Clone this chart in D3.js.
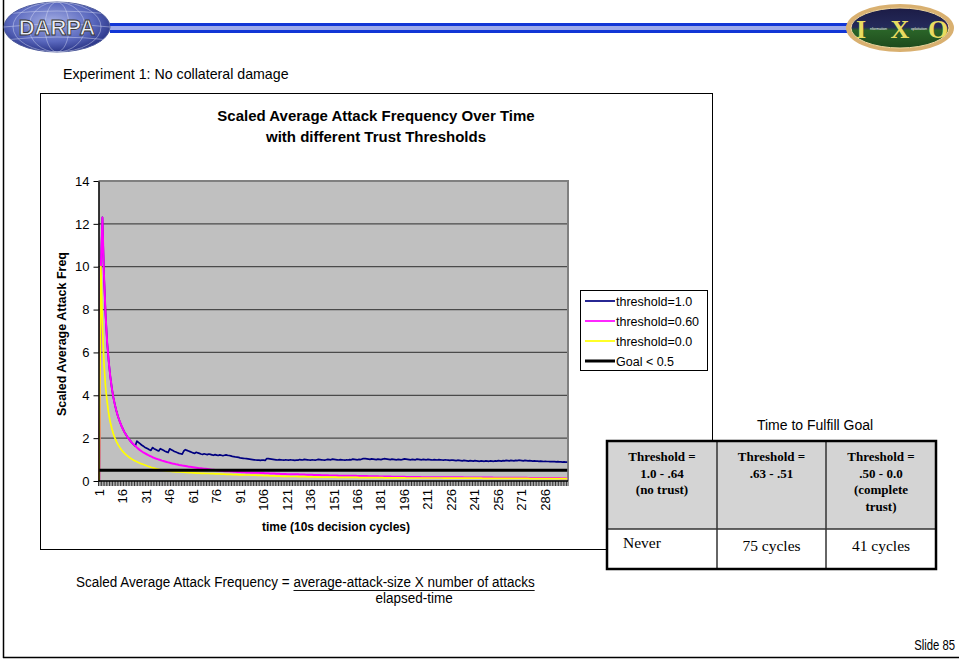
<!DOCTYPE html>
<html>
<head>
<meta charset="utf-8">
<script src="https://d3js.org/d3.v7.min.js"></script>
<style>
body { margin: 0; background: #fff; }
svg { display: block; font-family: "Liberation Sans", Arial, sans-serif; }
</style>
</head>
<body>
<svg width="959" height="660"></svg>
<script>
// values, one per 10s decision cycle (1..300)
const threshold10 = [
    0, 9.9, 12.3, 9.6, 7.8, 6.5, 5.6, 4.9, 4.35, 3.9,
    3.55, 3.25, 3.0, 2.79, 2.6, 2.44, 2.29, 2.17, 2.05, 1.95,
    1.86, 1.77, 1.7, 1.63, 1.86, 1.80, 1.74, 1.68, 1.63, 1.58,
    1.54, 1.50, 1.46, 1.43, 1.56, 1.51, 1.47, 1.43, 1.40, 1.51,
    1.47, 1.43, 1.39, 1.36, 1.33, 1.50, 1.46, 1.42, 1.38, 1.35,
    1.32, 1.29, 1.27, 1.25, 1.40, 1.46, 1.43, 1.40, 1.37, 1.34,
    1.31, 1.29, 1.34, 1.31, 1.29, 1.26, 1.24, 1.27, 1.25, 1.23,
    1.26, 1.24, 1.22, 1.20, 1.23, 1.21, 1.19, 1.22, 1.20, 1.18,
    1.20, 1.22, 1.20, 1.19, 1.17, 1.15, 1.14, 1.12, 1.11, 1.10,
    1.08, 1.07, 1.06, 1.05, 1.04, 1.03, 1.02, 1.01, 1.00, 0.99,
    0.98, 0.97, 0.97, 0.96, 0.98, 0.97, 0.96, 1.05, 1.04, 1.03,
    1.02, 1.01, 1.00, 0.99, 0.98, 1.00, 0.99, 0.98, 0.97, 0.99,
    0.98, 0.97, 0.99, 0.98, 0.97, 0.96, 0.98, 0.97, 1.00, 0.99,
    0.98, 1.01, 1.00, 0.99, 0.98, 0.97, 0.99, 0.98, 0.97, 0.99,
    1.01, 1.00, 0.99, 0.98, 0.97, 0.99, 1.01, 1.00, 0.99, 1.02,
    1.01, 1.00, 0.99, 0.98, 1.00, 0.99, 0.98, 0.97, 0.99, 0.98,
    1.00, 0.99, 1.02, 1.01, 1.00, 0.99, 1.01, 1.00, 1.03, 1.05,
    1.04, 1.03, 1.02, 1.01, 1.03, 1.02, 1.01, 1.00, 1.02, 1.01,
    1.00, 1.02, 1.04, 1.03, 1.02, 1.01, 1.00, 1.02, 1.01, 1.00,
    0.99, 1.01, 1.00, 0.99, 1.01, 1.03, 1.02, 1.01, 1.00, 0.99,
    1.01, 1.00, 0.99, 1.02, 1.01, 1.00, 0.99, 1.01, 1.00, 0.99,
    1.01, 1.00, 0.99, 0.98, 1.00, 0.99, 0.98, 1.00, 0.99, 0.98,
    0.97, 0.99, 0.98, 0.97, 0.96, 0.98, 0.97, 0.96, 0.95, 0.97,
    0.96, 0.95, 0.94, 0.96, 0.95, 0.94, 0.93, 0.95, 0.94, 0.93,
    0.95, 0.94, 0.93, 0.92, 0.94, 0.93, 0.92, 0.94, 0.93, 0.92,
    0.94, 0.93, 0.92, 0.94, 0.93, 0.95, 0.94, 0.93, 0.95, 0.94,
    0.96, 0.95, 0.94, 0.96, 0.95, 0.94, 0.96, 0.95, 0.97, 0.96,
    0.95, 0.94, 0.96, 0.95, 0.94, 0.95, 0.94, 0.93, 0.94, 0.93,
    0.93, 0.92, 0.93, 0.92, 0.91, 0.92, 0.91, 0.91, 0.90, 0.91,
    0.90, 0.90, 0.89, 0.90, 0.89, 0.89, 0.88, 0.89, 0.88, 0.88
];
const threshold060 = [
    0, 9.9, 12.3, 9.6, 7.8, 6.5, 5.6, 4.9, 4.35, 3.9,
    3.55, 3.25, 3.0, 2.79, 2.6, 2.44, 2.29, 2.17, 2.05, 1.95,
    1.86, 1.77, 1.7, 1.63, 1.56, 1.5, 1.44, 1.39, 1.34, 1.3,
    1.26, 1.22, 1.18, 1.15, 1.11, 1.08, 1.05, 1.03, 1.0, 0.98,
    0.95, 0.93, 0.91, 0.89, 0.87, 0.85, 0.83, 0.81, 0.8, 0.78,
    0.77, 0.75, 0.74, 0.72, 0.71, 0.7, 0.69, 0.67, 0.66, 0.65,
    0.64, 0.63, 0.62, 0.61, 0.6, 0.59, 0.58, 0.57, 0.57, 0.56,
    0.55, 0.54, 0.53, 0.52, 0.51, 0.5, 0.49, 0.48, 0.48, 0.47,
    0.46, 0.46, 0.45, 0.45, 0.44, 0.44, 0.43, 0.43, 0.42, 0.42,
    0.42, 0.41, 0.41, 0.41, 0.40, 0.40, 0.40, 0.39, 0.39, 0.39,
    0.38, 0.38, 0.38, 0.37, 0.37, 0.37, 0.36, 0.36, 0.36, 0.35,
    0.35, 0.35, 0.35, 0.34, 0.34, 0.34, 0.33, 0.33, 0.33, 0.33,
    0.32, 0.32, 0.32, 0.32, 0.31, 0.31, 0.31, 0.31, 0.30, 0.30,
    0.30, 0.30, 0.29, 0.29, 0.29, 0.29, 0.29, 0.28, 0.28, 0.28,
    0.28, 0.28, 0.27, 0.27, 0.27, 0.27, 0.27, 0.26, 0.26, 0.26,
    0.26, 0.26, 0.26, 0.25, 0.25, 0.25, 0.25, 0.25, 0.25, 0.24,
    0.24, 0.24, 0.24, 0.24, 0.24, 0.23, 0.23, 0.23, 0.23, 0.23,
    0.23, 0.23, 0.22, 0.22, 0.22, 0.22, 0.22, 0.22, 0.22, 0.21,
    0.21, 0.21, 0.21, 0.21, 0.21, 0.21, 0.21, 0.20, 0.20, 0.20,
    0.20, 0.20, 0.20, 0.20, 0.20, 0.20, 0.19, 0.19, 0.19, 0.19,
    0.19, 0.19, 0.19, 0.19, 0.19, 0.19, 0.18, 0.18, 0.18, 0.18,
    0.18, 0.18, 0.18, 0.18, 0.18, 0.18, 0.18, 0.17, 0.17, 0.17,
    0.17, 0.17, 0.17, 0.17, 0.17, 0.17, 0.17, 0.17, 0.17, 0.17,
    0.17, 0.17, 0.17, 0.16, 0.16, 0.16, 0.16, 0.16, 0.16, 0.16,
    0.16, 0.16, 0.16, 0.16, 0.16, 0.16, 0.16, 0.16, 0.16, 0.16,
    0.16, 0.16, 0.15, 0.15, 0.15, 0.15, 0.15, 0.15, 0.15, 0.15,
    0.15, 0.15, 0.15, 0.15, 0.15, 0.15, 0.15, 0.15, 0.15, 0.15,
    0.15, 0.15, 0.15, 0.15, 0.14, 0.14, 0.14, 0.14, 0.14, 0.14,
    0.14, 0.14, 0.14, 0.14, 0.14, 0.14, 0.14, 0.14, 0.14, 0.14,
    0.14, 0.14, 0.14, 0.14, 0.14, 0.13, 0.13, 0.13, 0.13, 0.13
];
const threshold00 = [
    0, 10.0, 7.3, 5.5, 4.4, 3.7, 3.15, 2.75, 2.45, 2.2,
    2.0, 1.84, 1.7, 1.58, 1.47, 1.38, 1.3, 1.23, 1.17, 1.11,
    1.06, 1.01, 0.97, 0.93, 0.9, 0.86, 0.83, 0.8, 0.78, 0.75,
    0.72, 0.69, 0.67, 0.64, 0.62, 0.6, 0.58, 0.56, 0.54, 0.52,
    0.5, 0.49, 0.48, 0.47, 0.46, 0.46, 0.45, 0.44, 0.44, 0.43,
    0.43, 0.42, 0.42, 0.41, 0.41, 0.40, 0.40, 0.39, 0.39, 0.39,
    0.38, 0.38, 0.37, 0.37, 0.37, 0.36, 0.36, 0.36, 0.35, 0.35,
    0.35, 0.34, 0.34, 0.34, 0.33, 0.33, 0.33, 0.33, 0.32, 0.32,
    0.32, 0.31, 0.31, 0.31, 0.31, 0.30, 0.30, 0.30, 0.30, 0.29,
    0.29, 0.29, 0.29, 0.28, 0.28, 0.28, 0.28, 0.27, 0.27, 0.27,
    0.27, 0.26, 0.26, 0.26, 0.26, 0.25, 0.25, 0.25, 0.25, 0.24,
    0.24, 0.24, 0.24, 0.23, 0.23, 0.23, 0.23, 0.22, 0.22, 0.22,
    0.22, 0.22, 0.21, 0.21, 0.21, 0.21, 0.21, 0.20, 0.20, 0.20,
    0.20, 0.20, 0.20, 0.19, 0.19, 0.19, 0.19, 0.19, 0.19, 0.18,
    0.18, 0.18, 0.18, 0.18, 0.18, 0.18, 0.18, 0.18, 0.18, 0.18,
    0.18, 0.18, 0.17, 0.17, 0.17, 0.17, 0.17, 0.17, 0.17, 0.17,
    0.17, 0.17, 0.17, 0.17, 0.17, 0.17, 0.16, 0.16, 0.16, 0.16,
    0.16, 0.16, 0.16, 0.16, 0.16, 0.16, 0.16, 0.16, 0.16, 0.16,
    0.16, 0.16, 0.15, 0.15, 0.15, 0.15, 0.15, 0.15, 0.15, 0.15,
    0.15, 0.15, 0.15, 0.15, 0.15, 0.15, 0.14, 0.14, 0.14, 0.14,
    0.14, 0.14, 0.14, 0.14, 0.14, 0.14, 0.14, 0.14, 0.14, 0.14,
    0.14, 0.14, 0.14, 0.14, 0.14, 0.14, 0.14, 0.14, 0.14, 0.14,
    0.13, 0.13, 0.13, 0.13, 0.13, 0.13, 0.13, 0.13, 0.13, 0.13,
    0.13, 0.13, 0.13, 0.13, 0.13, 0.13, 0.13, 0.13, 0.13, 0.13,
    0.13, 0.13, 0.13, 0.13, 0.13, 0.12, 0.12, 0.12, 0.12, 0.12,
    0.12, 0.12, 0.12, 0.12, 0.12, 0.12, 0.12, 0.12, 0.12, 0.12,
    0.12, 0.12, 0.12, 0.12, 0.12, 0.12, 0.12, 0.12, 0.12, 0.12,
    0.12, 0.12, 0.12, 0.12, 0.12, 0.11, 0.11, 0.11, 0.11, 0.11,
    0.11, 0.11, 0.11, 0.11, 0.11, 0.11, 0.11, 0.11, 0.11, 0.11,
    0.11, 0.11, 0.11, 0.11, 0.11, 0.11, 0.11, 0.11, 0.11, 0.11
];
const goalValue = 0.5;

const cycles = threshold10.map((d, i) => i + 1);
const xTickLabels = [1, 16, 31, 46, 61, 76, 91, 106, 121, 136, 151, 166, 181, 196, 211, 226, 241, 256, 271, 286];
const yTicks = [0, 2, 4, 6, 8, 10, 12, 14];

const seriesNames = ['threshold=1.0', 'threshold=0.60', 'threshold=0.0', 'Goal < 0.5'];
const seriesColors = ['#000080', '#ff00ff', '#ffff00', '#000000'];

const tableHead = [['Threshold =', '1.0 - .64', '(no trust)'], ['Threshold =', '.63 - .51'], ['Threshold =', '.50 - 0.0', '(complete', 'trust)']];
const tableRow = ['Never', '75 cycles', '41 cycles'];

const serif = '"Liberation Serif", "Times New Roman", serif';

const svg = d3.select('svg');
const defs = svg.append('defs');

// ---- slide frame and header ----
svg.append('line').attr('x1', 3.5).attr('x2', 3.5).attr('y1', 0).attr('y2', 658)
    .attr('stroke', '#000').attr('stroke-width', 1.5);
svg.append('line').attr('x1', 3).attr('x2', 959).attr('y1', 657.5).attr('y2', 657.5)
    .attr('stroke', '#000').attr('stroke-width', 1.5);

svg.append('rect').attr('x', 110).attr('y', 23).attr('width', 740).attr('height', 10).attr('fill', '#1236d6');
svg.append('rect').attr('x', 110).attr('y', 26).attr('width', 740).attr('height', 4).attr('fill', '#9eaaea');

const dg = defs.append('radialGradient').attr('id', 'darpaGrad').attr('cx', '45%').attr('cy', '40%').attr('r', '60%');
dg.append('stop').attr('offset', '0%').attr('stop-color', '#a4aee4');
dg.append('stop').attr('offset', '65%').attr('stop-color', '#5a68be');
dg.append('stop').attr('offset', '100%').attr('stop-color', '#2b3688');
defs.append('clipPath').attr('id', 'darpaClip')
    .append('ellipse').attr('cx', 57).attr('cy', 27).attr('rx', 53).attr('ry', 25);

const darpa = svg.append('g');
darpa.append('ellipse').attr('cx', 57).attr('cy', 27).attr('rx', 53).attr('ry', 25)
    .attr('fill', 'url(#darpaGrad)').attr('stroke', '#505c9c');
const globe = darpa.append('g').attr('clip-path', 'url(#darpaClip)')
    .attr('fill', 'none').attr('stroke', '#dfe3f7').attr('stroke-opacity', 0.55).attr('stroke-width', 0.8);
[12, 28, 44].forEach(rx => globe.append('ellipse').attr('cx', 57).attr('cy', 27).attr('rx', rx).attr('ry', 25));
[14, 27, 40].forEach(y => globe.append('path').attr('d', `M4,${y} Q57,${y - 6} 110,${y}`));
darpa.append('text').attr('x', 57).attr('y', 35).attr('text-anchor', 'middle')
    .attr('font-size', 22).attr('font-weight', 'bold').attr('fill', '#eceef6')
    .attr('stroke', '#3a3a3a').attr('stroke-width', 0.9).text('DARPA');

const ig = defs.append('linearGradient').attr('id', 'ixoGrad').attr('x1', 0).attr('x2', 0).attr('y1', 0).attr('y2', 1);
ig.append('stop').attr('offset', '0%').attr('stop-color', '#1c1c46');
ig.append('stop').attr('offset', '48%').attr('stop-color', '#242a5a');
ig.append('stop').attr('offset', '56%').attr('stop-color', '#2a6428');
ig.append('stop').attr('offset', '100%').attr('stop-color', '#1e4a1c');
const ixo = svg.append('g');
ixo.append('ellipse').attr('cx', 900).attr('cy', 28).attr('rx', 54).attr('ry', 24)
    .attr('fill', '#d9b070');
ixo.append('ellipse').attr('cx', 900).attr('cy', 28).attr('rx', 49).attr('ry', 20)
    .attr('fill', 'url(#ixoGrad)').attr('stroke', '#f0d8a0').attr('stroke-width', 1);
ixo.selectAll('text.big').data([['I', 861], ['X', 900], ['O', 938]]).enter()
    .append('text').attr('class', 'big')
    .attr('x', d => d[1]).attr('y', 38).attr('text-anchor', 'middle')
    .attr('font-family', serif).attr('font-size', 26).attr('font-weight', 'bold')
    .attr('fill', '#e8dc60').text(d => d[0]);
ixo.selectAll('text.small').data([['nformation', 878.5], ['xploitation', 919]]).enter()
    .append('text').attr('class', 'small')
    .attr('x', d => d[1]).attr('y', 30).attr('text-anchor', 'middle')
    .attr('font-size', 3.6).attr('fill', '#f0f0f0').text(d => d[0]);

// ---- slide texts ----
svg.append('text').attr('x', 63).attr('y', 79).attr('font-size', 14.2)
    .text('Experiment 1: No collateral damage');

// ---- chart box ----
svg.append('rect').attr('x', 40.5).attr('y', 93.5).attr('width', 672).attr('height', 456)
    .attr('fill', '#fff').attr('stroke', '#000').attr('stroke-width', 1);

const title = svg.append('text').attr('text-anchor', 'middle').attr('font-size', 15).attr('font-weight', 'bold');
title.append('tspan').attr('x', 376).attr('y', 121).text('Scaled Average Attack Frequency Over Time');
title.append('tspan').attr('x', 376).attr('y', 142).text('with different Trust Thresholds');

const plot = { left: 98.5, right: 568, top: 181, bottom: 481 };

const x = d3.scaleBand()
    .domain(cycles)
    .range([plot.left, plot.right])
    .padding(0);
const xc = c => x(c) + x.bandwidth() / 2;

const y = d3.scaleLinear()
    .domain([0, 14])
    .range([plot.bottom, plot.top]);

svg.append('rect').attr('x', plot.left).attr('y', plot.top)
    .attr('width', plot.right - plot.left).attr('height', plot.bottom - plot.top)
    .attr('fill', '#c0c0c0');

// gridlines
svg.append('g').selectAll('line')
    .data(yTicks.filter(t => t > 0 && t < 14))
    .enter().append('line')
    .attr('x1', plot.left).attr('x2', plot.right)
    .attr('y1', d => y(d)).attr('y2', d => y(d))
    .attr('stroke', '#4a4a4a').attr('stroke-width', 1.3);

// plot border top / right
svg.append('path')
    .attr('d', `M${plot.left},${y(14)}H${plot.right}V${plot.bottom}`)
    .attr('fill', 'none').attr('stroke', '#808080').attr('stroke-width', 2);

// series lines
const line = d3.line()
    .x((d, i) => xc(cycles[i]))
    .y(d => y(d));

const seriesData = [threshold10, threshold060, threshold00];
const lineWidths = [1.7, 2, 1.7];
svg.append('g').selectAll('path')
    .data(seriesData)
    .enter().append('path')
    .attr('d', d => line(d))
    .attr('fill', 'none')
    .attr('stroke', (d, i) => seriesColors[i])
    .attr('stroke-width', (d, i) => lineWidths[i])
    .attr('stroke-linejoin', 'round');

svg.append('line')
    .attr('x1', xc(cycles[0])).attr('x2', xc(cycles[cycles.length - 1]))
    .attr('y1', y(goalValue)).attr('y2', y(goalValue))
    .attr('stroke', seriesColors[3]).attr('stroke-width', 3);

// y axis
const yAxis = svg.append('g')
    .attr('transform', `translate(${plot.left}, 0)`)
    .call(d3.axisLeft(y).tickValues(yTicks).tickSize(5).tickSizeOuter(0).tickPadding(4));
yAxis.select('.domain').attr('stroke', '#000').attr('stroke-width', 1.5);
yAxis.selectAll('text').attr('font-size', 13).attr('font-family', '"Liberation Sans", Arial, sans-serif').attr('fill', '#000');

// x axis: line, a tick at every category boundary, labels every 15th
const xAxis = svg.append('g');
xAxis.selectAll('line.tick')
    .data(cycles.concat([null]))
    .enter().append('line').attr('class', 'tick')
    .attr('x1', d => d === null ? plot.right : x(d))
    .attr('x2', d => d === null ? plot.right : x(d))
    .attr('y1', plot.bottom).attr('y2', plot.bottom + 5)
    .attr('stroke', '#000').attr('stroke-width', 0.8);
xAxis.append('line')
    .attr('x1', plot.left).attr('x2', plot.right)
    .attr('y1', plot.bottom).attr('y2', plot.bottom)
    .attr('stroke', '#000').attr('stroke-width', 1.5);
xAxis.selectAll('text')
    .data(xTickLabels)
    .enter().append('text')
    .attr('transform', d => `translate(${xc(d) + 4.5}, ${plot.bottom + 8}) rotate(-90)`)
    .attr('text-anchor', 'end')
    .attr('font-size', 13)
    .text(d => d);

svg.append('text').attr('x', 336).attr('y', 531).attr('text-anchor', 'middle')
    .attr('font-size', 12).attr('font-weight', 'bold').text('time (10s decision cycles)');
svg.append('text').attr('transform', 'translate(66, 334) rotate(-90)').attr('text-anchor', 'middle')
    .attr('font-size', 12.5).attr('font-weight', 'bold').text('Scaled Average Attack Freq');

// legend
const legend = svg.append('g');
legend.append('rect').attr('x', 580.5).attr('y', 290.5).attr('width', 127).attr('height', 80)
    .attr('fill', '#fff').attr('stroke', '#000');
const li = legend.selectAll('g.item')
    .data(seriesNames)
    .enter().append('g').attr('class', 'item')
    .attr('transform', (d, i) => `translate(585, ${301 + i * 20})`);
li.append('line').attr('x1', 0).attr('x2', 30).attr('y1', 0).attr('y2', 0)
    .attr('stroke', (d, i) => seriesColors[i])
    .attr('stroke-width', (d, i) => i === 3 ? 3 : 1.7);
li.append('text').attr('x', 31).attr('y', 4.5).attr('font-size', 12.5).text(d => d);

// ---- table ----
svg.append('text').attr('x', 815).attr('y', 430).attr('text-anchor', 'middle')
    .attr('font-size', 14).text('Time to Fulfill Goal');

const cols = [607, 717, 826, 936];
const tb = { top: 441, mid: 529, bottom: 569 };
const table = svg.append('g');
table.append('rect').attr('x', cols[0]).attr('y', tb.top).attr('width', cols[3] - cols[0]).attr('height', tb.mid - tb.top)
    .attr('fill', '#d4d4d4');
table.append('rect').attr('x', cols[0]).attr('y', tb.mid).attr('width', cols[3] - cols[0]).attr('height', tb.bottom - tb.mid)
    .attr('fill', '#fff');
table.append('line').attr('x1', cols[0]).attr('x2', cols[3]).attr('y1', tb.mid).attr('y2', tb.mid)
    .attr('stroke', '#333').attr('stroke-width', 1.5);
[cols[1], cols[2]].forEach(cx => table.append('line').attr('x1', cx).attr('x2', cx)
    .attr('y1', tb.top).attr('y2', tb.bottom).attr('stroke', '#333').attr('stroke-width', 1.5));
table.append('rect').attr('x', cols[0]).attr('y', tb.top).attr('width', cols[3] - cols[0]).attr('height', tb.bottom - tb.top)
    .attr('fill', 'none').attr('stroke', '#000').attr('stroke-width', 2.5);

tableHead.forEach((lines, c) => {
    const t = table.append('text').attr('text-anchor', 'middle')
        .attr('font-family', serif)
        .attr('font-size', 13).attr('font-weight', 'bold');
    lines.forEach((s, k) => t.append('tspan')
        .attr('x', (cols[c] + cols[c + 1]) / 2).attr('y', 461 + k * 16.7).text(s));
});
tableRow.forEach((s, c) => {
    table.append('text')
        .attr('x', c === 0 ? cols[0] + 16 : (cols[c] + cols[c + 1]) / 2)
        .attr('y', c === 0 ? 548 : 551)
        .attr('text-anchor', c === 0 ? 'start' : 'middle')
        .attr('font-family', serif)
        .attr('font-size', 15.5).text(s);
});

// ---- formula (condensed, like the slide's narrow face) ----
const formula = svg.append('g').attr('transform', 'translate(76, 587) scale(0.87, 1)')
    .attr('font-size', 15.5);
const lhs = formula.append('text').attr('x', 0).attr('y', 0)
    .text('Scaled Average Attack Frequency =');
const nx = lhs.node().getComputedTextLength() + 4.5;
const num = formula.append('text').attr('x', nx).attr('y', 0)
    .text('average-attack-size X number of attacks');
const nw = num.node().getComputedTextLength();
formula.append('line').attr('x1', nx).attr('x2', nx + nw).attr('y1', 3.5).attr('y2', 3.5)
    .attr('stroke', '#000').attr('stroke-width', 1);
formula.append('text').attr('x', nx + nw / 2).attr('y', 16).attr('text-anchor', 'middle')
    .text('elapsed-time');

svg.append('g').attr('transform', 'translate(955, 650) scale(0.78, 1)')
    .append('text').attr('text-anchor', 'end').attr('font-size', 14.5).text('Slide 85');
</script>
</body>
</html>
